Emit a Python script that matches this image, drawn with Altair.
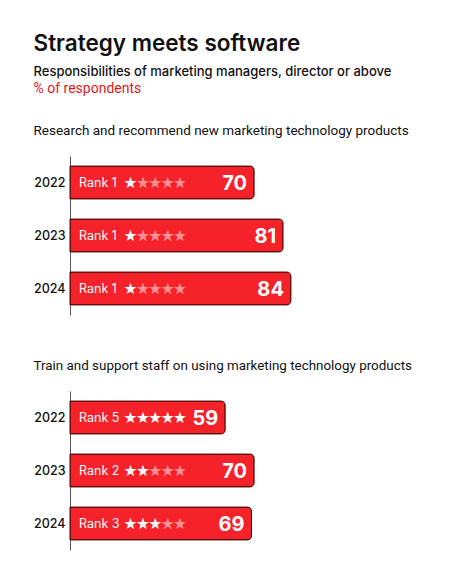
import altair as alt
import pandas as pd

years = ["2022", "2023", "2024"]
s1_values = [70, 81, 84]
s1_ranks = [1, 1, 1]
s2_values = [59, 70, 69]
s2_ranks = [5, 2, 3]

title_main = "Strategy meets software"
subtitle_main = "Responsibilities of marketing managers, director or above"
unit_label = "% of respondents"
section1 = "Research and recommend new marketing technology products"
section2 = "Train and support staff on using marketing technology products"

RED = "#F5222A"
FONT = "Inter"
BODY = "Roboto"
STAR = "\u2605"


def panel(values, ranks, title):
    df = pd.DataFrame({"year": years, "value": values, "rank": ranks})
    df["start"] = 0
    df["rank_label"] = ["Rank %d" % r for r in ranks]
    df["star"] = STAR
    base = alt.Chart(df).encode(
        y=alt.Y(
            "year:N",
            title=None,
            scale=alt.Scale(paddingInner=0.38, paddingOuter=0.19),
            axis=alt.Axis(
                ticks=False,
                domainColor="#555555",
                domainWidth=1,
                labelFont=FONT,
                labelFontSize=12.5,
                labelFontWeight=500,
                labelColor="#111111",
                labelPadding=5,
            ),
        )
    )
    x_enc = alt.X("value:Q", scale=alt.Scale(domain=[0, 100]), axis=None)
    x0 = alt.X("start:Q", scale=alt.Scale(domain=[0, 100]), axis=None)
    bars = base.mark_bar(
        color=RED,
        stroke="#4a0a0a",
        strokeWidth=1,
        cornerRadiusTopRight=4,
        cornerRadiusBottomRight=4,
    ).encode(x=x_enc)
    rank_txt = base.mark_text(
        align="left", baseline="middle", dx=9, color="white", fontSize=12.5, font=FONT
    ).encode(x=x0, text="rank_label:N")
    stars = []
    for i in range(1, 6):
        stars.append(
            base.mark_text(
                align="left", baseline="middle", dx=53.5 + 12.4 * (i - 1), dy=0,
                color="white", fontSize=15.5, font="DejaVu Sans"
            ).encode(
                x=x0,
                text="star:N",
                opacity=alt.condition(
                    alt.datum["rank"] >= i, alt.value(1.0), alt.value(0.5)
                ),
            )
        )
    val_txt = base.mark_text(
        align="right", baseline="middle", dx=-7, dy=1, color="white", fontSize=20,
        fontWeight=700, font=FONT
    ).encode(x=x_enc, text="value:Q")
    return alt.layer(bars, rank_txt, *stars, val_txt).properties(
        width=263, height=159, title=title
    )


p1 = panel(
    s1_values,
    s1_ranks,
    alt.TitleParams(
        text=unit_label,
        subtitle=section1,
        color="#E3161B",
        fontSize=14,
        fontWeight="normal",
        font=BODY,
        subtitleColor="#111111",
        subtitleFontSize=13.5,
        subtitleFont=BODY,
        subtitlePadding=28,
        anchor="start",
        offset=19,
    ),
)
p2 = panel(
    s2_values,
    s2_ranks,
    alt.TitleParams(
        text=section2,
        color="#111111",
        fontSize=13.4,
        fontWeight="normal",
        font=BODY,
        anchor="start",
        offset=19,
    ),
)

chart = (
    alt.vconcat(p1, p2, spacing=43)
    .properties(
        title=alt.TitleParams(
            text=title_main,
            subtitle=subtitle_main,
            fontSize=22.5,
            fontWeight=600,
            font=FONT,
            color="#111111",
            subtitleFont=FONT,
            subtitleFontSize=13,
            subtitleFontWeight=500,
            subtitleColor="#111111",
            subtitlePadding=10,
            anchor="start",
            offset=3,
        ),
        padding={"left": 25, "top": 25, "right": 10, "bottom": 10},
    )
    .configure(font=FONT)
    .configure_view(strokeWidth=0, stroke=None)
)

chart.save("out.html", embed_options={"renderer": "svg", "actions": False})
